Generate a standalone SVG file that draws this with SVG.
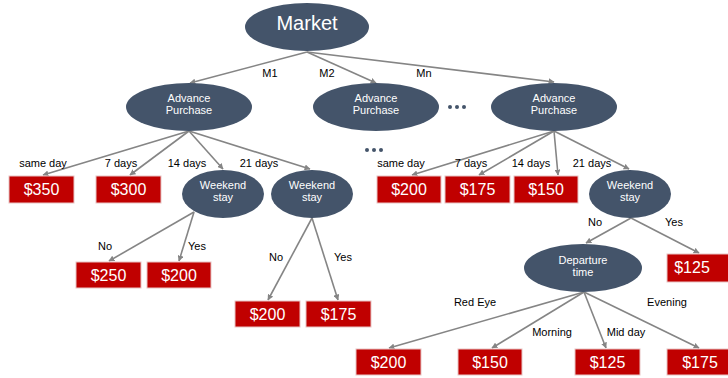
<svg xmlns="http://www.w3.org/2000/svg" width="728" height="378" viewBox="0 0 728 378">
<style>
.n{fill:#44546A}
.nt{fill:#fff;font-family:"Liberation Sans",Arial,sans-serif;font-size:11px;text-anchor:middle}
.mt{fill:#fff;font-family:"Liberation Sans",Arial,sans-serif;font-size:20px;text-anchor:middle}
.b{fill:#C00000;stroke:#E8C4C4;stroke-width:1}
.bt{fill:#fff;font-family:"Liberation Sans",Arial,sans-serif;font-size:16px;text-anchor:middle}
.l{fill:#000;font-family:"Liberation Sans",Arial,sans-serif;font-size:11px;text-anchor:middle}
.c{stroke:#858585;stroke-width:1.6;fill:none;marker-end:url(#ah)}
.d{fill:#44546A}
</style>
<defs>
<marker id="ah" viewBox="0 0 10 10" refX="9" refY="5" markerWidth="6" markerHeight="6" orient="auto" markerUnits="userSpaceOnUse">
<path d="M0,0 L10,5 L0,10 z" fill="#858585"/>
</marker>
</defs>
<rect width="728" height="378" fill="#fff"/>
<g id="connectors">
<line class="c" x1="307" y1="52" x2="190" y2="83"/>
<line class="c" x1="307" y1="52" x2="376" y2="83"/>
<line class="c" x1="307" y1="52" x2="554" y2="82"/>
<line class="c" x1="189" y1="131" x2="43" y2="175"/>
<line class="c" x1="189" y1="131" x2="130" y2="175"/>
<line class="c" x1="189" y1="131" x2="223" y2="169"/>
<line class="c" x1="189" y1="131" x2="310" y2="169"/>
<line class="c" x1="194" y1="212" x2="109" y2="261"/>
<line class="c" x1="194" y1="212" x2="179" y2="261"/>
<line class="c" x1="312" y1="218" x2="268" y2="300"/>
<line class="c" x1="312" y1="218" x2="338" y2="300"/>
<line class="c" x1="554" y1="131" x2="412" y2="175"/>
<line class="c" x1="554" y1="131" x2="479" y2="175"/>
<line class="c" x1="554" y1="131" x2="558" y2="175"/>
<line class="c" x1="554" y1="131" x2="629" y2="169"/>
<line class="c" x1="631" y1="218" x2="586" y2="243"/>
<line class="c" x1="631" y1="218" x2="699" y2="253"/>
<line class="c" x1="584" y1="292" x2="389" y2="348"/>
<line class="c" x1="584" y1="292" x2="492" y2="348"/>
<line class="c" x1="584" y1="292" x2="606" y2="348"/>
<line class="c" x1="584" y1="292" x2="699" y2="348"/>
</g>
<g id="labels">
<text class="l" x="270" y="77">M1</text>
<text class="l" x="327" y="77">M2</text>
<text class="l" x="424" y="77">Mn</text>
<text class="l" x="43" y="167">same day</text>
<text class="l" x="121" y="167">7 days</text>
<text class="l" x="187" y="167">14 days</text>
<text class="l" x="259" y="167">21 days</text>
<text class="l" x="105" y="250">No</text>
<text class="l" x="197" y="250">Yes</text>
<text class="l" x="276" y="261">No</text>
<text class="l" x="343" y="261">Yes</text>
<text class="l" x="401" y="167">same day</text>
<text class="l" x="471" y="167">7 days</text>
<text class="l" x="531" y="167">14 days</text>
<text class="l" x="592" y="167">21 days</text>
<text class="l" x="595" y="226">No</text>
<text class="l" x="674" y="226">Yes</text>
<text class="l" x="475" y="306">Red Eye</text>
<text class="l" x="667" y="306">Evening</text>
<text class="l" x="552" y="336">Morning</text>
<text class="l" x="626" y="336">Mid day</text>
</g>
<g id="dots1"><circle class="d" cx="450" cy="107" r="2"/><circle class="d" cx="457" cy="107" r="2"/><circle class="d" cx="464" cy="107" r="2"/></g>
<g id="dots2"><circle class="d" cx="367" cy="150" r="2"/><circle class="d" cx="374" cy="150" r="2"/><circle class="d" cx="381" cy="150" r="2"/></g>
<g id="market"><ellipse class="n" cx="307" cy="27" rx="62" ry="24"/><text class="mt" x="307" y="30">Market</text></g>
<g id="ap1"><ellipse class="n" cx="189" cy="107" rx="63" ry="24"/><text class="nt" x="189" y="102">Advance</text><text class="nt" x="189" y="114">Purchase</text></g>
<g id="ap2"><ellipse class="n" cx="376" cy="107" rx="63" ry="24"/><text class="nt" x="376" y="102">Advance</text><text class="nt" x="376" y="114">Purchase</text></g>
<g id="ap3"><ellipse class="n" cx="554" cy="107" rx="63" ry="24"/><text class="nt" x="554" y="102">Advance</text><text class="nt" x="554" y="114">Purchase</text></g>
<g id="ws1"><ellipse class="n" cx="223" cy="194" rx="41" ry="24"/><text class="nt" x="223" y="189">Weekend</text><text class="nt" x="223" y="201">stay</text></g>
<g id="ws2"><ellipse class="n" cx="312" cy="194" rx="41" ry="24"/><text class="nt" x="312" y="189">Weekend</text><text class="nt" x="312" y="201">stay</text></g>
<g id="ws3"><ellipse class="n" cx="630" cy="194" rx="41" ry="24"/><text class="nt" x="630" y="189">Weekend</text><text class="nt" x="630" y="201">stay</text></g>
<g id="dep"><ellipse class="n" cx="583" cy="268" rx="59" ry="24"/><text class="nt" x="583" y="264">Departure</text><text class="nt" x="583" y="276">time</text></g>
<g id="p350"><rect class="b" x="9" y="176" width="65" height="27"/><text class="bt" x="41.5" y="195">$350</text></g>
<g id="p300"><rect class="b" x="96" y="176" width="65" height="27"/><text class="bt" x="128.5" y="195">$300</text></g>
<g id="p250"><rect class="b" x="76" y="262" width="65" height="26"/><text class="bt" x="108.5" y="281">$250</text></g>
<g id="p200a"><rect class="b" x="147" y="262" width="64" height="26"/><text class="bt" x="179" y="281">$200</text></g>
<g id="p200b"><rect class="b" x="235" y="301" width="65" height="26"/><text class="bt" x="267.5" y="320">$200</text></g>
<g id="p175a"><rect class="b" x="306" y="301" width="65" height="26"/><text class="bt" x="338.5" y="320">$175</text></g>
<g id="p200c"><rect class="b" x="377" y="176" width="64" height="27"/><text class="bt" x="409" y="195">$200</text></g>
<g id="p175b"><rect class="b" x="445" y="176" width="65" height="27"/><text class="bt" x="477.5" y="195">$175</text></g>
<g id="p150a"><rect class="b" x="514" y="176" width="64" height="27"/><text class="bt" x="546" y="195">$150</text></g>
<g id="p125a"><rect class="b" x="667" y="254" width="66" height="28"/><text class="bt" x="692" y="273">$125</text></g>
<g id="p200d"><rect class="b" x="356" y="349" width="65" height="26"/><text class="bt" x="388.5" y="368">$200</text></g>
<g id="p150b"><rect class="b" x="458" y="349" width="64" height="26"/><text class="bt" x="490" y="368">$150</text></g>
<g id="p125b"><rect class="b" x="575" y="349" width="65" height="26"/><text class="bt" x="607.5" y="368">$125</text></g>
<g id="p175c"><rect class="b" x="667" y="349" width="66" height="26"/><text class="bt" x="700" y="368">$175</text></g>
</svg>
